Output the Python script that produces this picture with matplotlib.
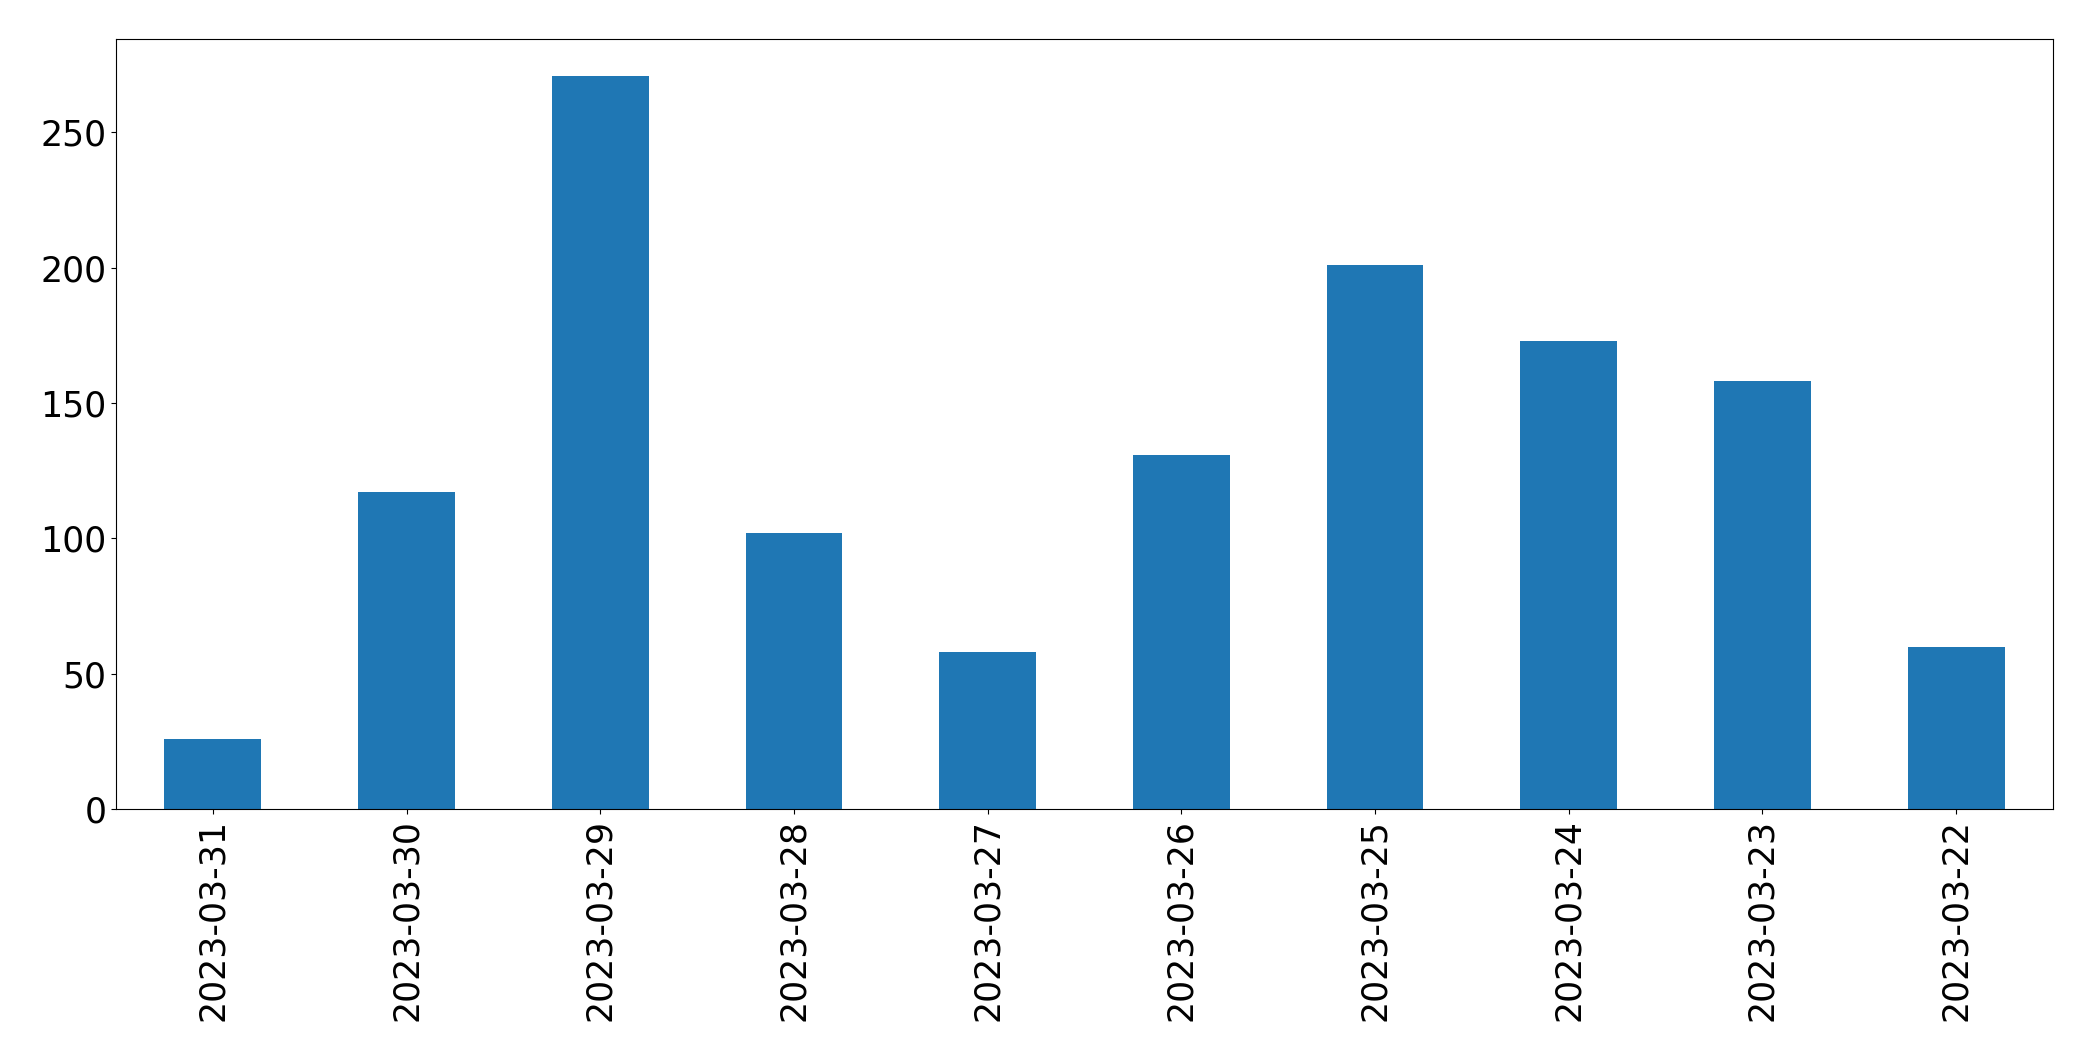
import matplotlib
matplotlib.use("Agg")
import matplotlib.pyplot as plt

dates = [
    "2023-03-31", "2023-03-30", "2023-03-29", "2023-03-28", "2023-03-27",
    "2023-03-26", "2023-03-25", "2023-03-24", "2023-03-23", "2023-03-22",
]
counts = [26, 117, 271, 102, 58, 131, 201, 173, 158, 60]

fig = plt.figure(figsize=(20.93, 10.61), dpi=100)
ax = fig.add_axes([116 / 2093, 1 - 809 / 1061, (2053 - 116) / 2093, (809 - 39) / 1061])

x = range(len(dates))
ax.bar(x, counts, width=0.5, color="#1f77b4")
ax.set_xlim(-0.5, len(dates) - 0.5)
ax.set_xticks(list(x))
ax.set_xticklabels(dates, rotation=90)
ax.tick_params(axis="both", labelsize=25)

fig.savefig("out.png", dpi=100)
plt.close(fig)
